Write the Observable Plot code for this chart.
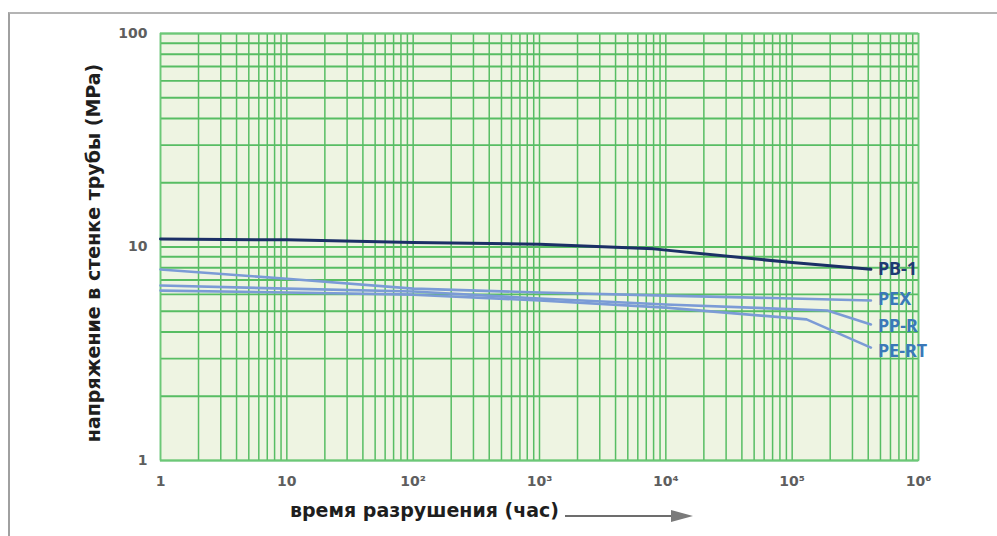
<!DOCTYPE html>
<html>
<head>
<meta charset="utf-8">
<script src="https://cdn.jsdelivr.net/npm/d3@7"></script>
<script src="https://cdn.jsdelivr.net/npm/@observablehq/plot@0.6"></script>
<style>
  html, body { margin: 0; padding: 0; background: #fff; }
  #wrap { position: relative; width: 997px; height: 536px; overflow: hidden; }
  #frame { position: absolute; left: 8px; top: 12px; width: 989px; height: 530px;
           border-top: 2px solid #b4b4b4; border-left: 2px solid #a0a0a0; pointer-events: none; }
  #arrow { position: absolute; left: 563px; top: 507px; }
</style>
</head>
<body>
<div id="wrap">
  <div id="frame"></div>
  <div id="chart"></div>
  <svg id="arrow" width="135" height="18">
    <line x1="2" y1="9" x2="112" y2="9" stroke="#6d6d6d" stroke-width="2"/>
    <path d="M108,3 L130,9 L108,15 Z" fill="#7a7a7a"/>
  </svg>
</div>
<script>
// ---- data ----
const xTicks = [1, 10, 100, 1000, 10000, 100000, 1000000];
const xTickLabels = ["1", "10", "10²", "10³", "10⁴", "10⁵", "10⁶"];
const yTicks = [1, 10, 100];
const yTickLabels = ["1", "10", "100"];

const seriesNames = ["PB-1", "PEX", "PP-R", "PE-RT"];

const pb1Hours   = [1, 10, 100, 1000, 8000, 100000, 420000];
const pb1Stress  = [10.9, 10.8, 10.5, 10.3, 9.8, 8.45, 7.86];

const pexHours   = [1, 10, 100, 1000, 10000, 100000, 420000];
const pexStress  = [7.85, 7.1, 6.38, 6.12, 5.92, 5.74, 5.62];

const pprHours   = [1, 10, 100, 1000, 10000, 190000, 420000];
const pprStress  = [6.6, 6.38, 6.19, 5.74, 5.38, 5.04, 4.34];

const pertHours  = [1, 10, 100, 1000, 10000, 130000, 420000];
const pertStress = [6.25, 6.12, 5.98, 5.62, 5.2, 4.58, 3.38];

const xLabel = "время разрушения (час)";
const yLabel = "напряжение в стенке трубы (MPa)";

// ---- build tables ----
const hoursList = [pb1Hours, pexHours, pprHours, pertHours];
const stressList = [pb1Stress, pexStress, pprStress, pertStress];
const rows = [];
seriesNames.forEach((name, i) => {
  hoursList[i].forEach((h, j) => rows.push({series: name, hours: h, stress: stressList[i][j]}));
});
const ends = seriesNames.map((name, i) => ({
  series: name,
  hours: hoursList[i][hoursList[i].length - 1],
  stress: stressList[i][stressList[i].length - 1]
}));

const lineColor = {"PB-1": "#1b2f66", "PEX": "#7b9bd6", "PP-R": "#7b9bd6", "PE-RT": "#7b9bd6"};
const labelColor = {"PB-1": "#1f3a73", "PEX": "#3b78b8", "PP-R": "#3b78b8", "PE-RT": "#3b78b8"};
const labelDy = {"PB-1": 0, "PEX": -1, "PP-R": 2, "PE-RT": 4};

const xGrid = d3.scaleLog().domain([1, 1e6]).ticks();
const yGrid = d3.scaleLog().domain([1, 100]).ticks();

const chart = Plot.plot({
  width: 997,
  height: 536,
  marginLeft: 160,
  marginRight: 79,
  marginTop: 33,
  marginBottom: 76,
  style: {background: "transparent", overflow: "visible"},
  x: {type: "log", domain: [1, 1e6]},
  y: {type: "log", domain: [1, 100]},
  marks: [
    Plot.frame({fill: "#eef4e2", stroke: null}),
    Plot.ruleX(xGrid, {stroke: "#57bd63", strokeWidth: 1.5}),
    Plot.ruleY(yGrid, {stroke: "#57bd63", strokeWidth: 1.9}),
    Plot.frame({stroke: "#6cc877", strokeWidth: 1.5}),
    Plot.axisX({
      ticks: xTicks, tickSize: 0, tickPadding: 16,
      tickFormat: d => xTickLabels[xTicks.indexOf(d)],
      label: null, fill: "#5e5e5e", fontSize: 14, fontWeight: "bold",
      fontFamily: "DejaVu Sans"
    }),
    Plot.axisY({
      ticks: yTicks, tickSize: 0, tickPadding: 13,
      tickFormat: d => yTickLabels[yTicks.indexOf(d)],
      label: null, fill: "#5e5e5e", fontSize: 14, fontWeight: "bold",
      fontFamily: "DejaVu Sans"
    }),
    Plot.line(rows.filter(d => d.series !== "PB-1"), {
      x: "hours", y: "stress", z: "series",
      stroke: d => lineColor[d.series], strokeWidth: 2.6
    }),
    Plot.line(rows.filter(d => d.series === "PB-1"), {
      x: "hours", y: "stress", z: "series",
      stroke: d => lineColor[d.series], strokeWidth: 3
    }),
    ...ends.map(e => Plot.text([e], {
      x: "hours", y: "stress", text: "series",
      textAnchor: "start", dx: 7, dy: labelDy[e.series],
      fill: labelColor[e.series], fontSize: 18, fontWeight: "bold",
      fontFamily: "Noto Sans"
    })),
    Plot.text([yLabel], {
      frameAnchor: "left", textAnchor: "middle", dx: -67, dy: 6, rotate: -90,
      fill: "#1e1e1e", fontSize: 19, fontWeight: "bold",
      fontFamily: "DejaVu Sans"
    }),
    Plot.text([xLabel], {
      frameAnchor: "bottom", textAnchor: "middle", dx: -115, dy: 56,
      fill: "#1e1e1e", fontSize: 19, fontWeight: "bold",
      fontFamily: "DejaVu Sans"
    })
  ]
});
document.getElementById("chart").appendChild(chart);
</script>
</body>
</html>
